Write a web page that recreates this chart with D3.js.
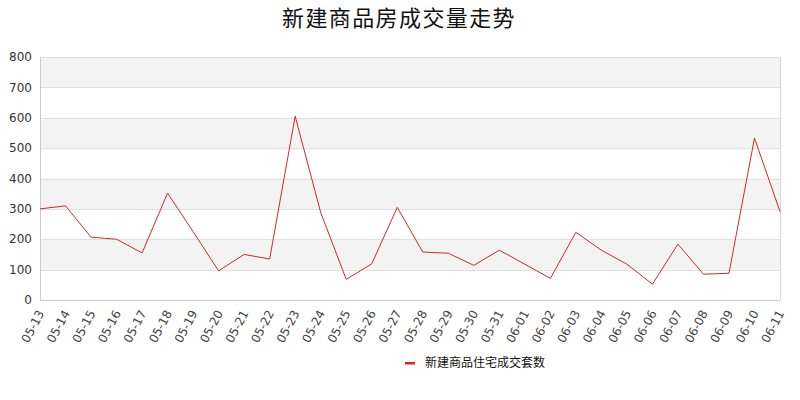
<!DOCTYPE html>
<html><head><meta charset="utf-8">
<script src="https://cdn.jsdelivr.net/npm/d3@7"></script>
<style>body{margin:0;background:#fff;}svg{display:block;font-family:"Noto Sans CJK SC","DejaVu Sans",sans-serif;}</style>
</head><body><svg id="c" width="800" height="400"></svg>
<script>
const title = "新建商品房成交量走势";
const seriesName = "新建商品住宅成交套数";
const categories = ["05-13","05-14","05-15","05-16","05-17","05-18","05-19","05-20","05-21","05-22","05-23","05-24","05-25","05-26","05-27","05-28","05-29","05-30","05-31","06-01","06-02","06-03","06-04","06-05","06-06","06-07","06-08","06-09","06-10","06-11"];
const values = [300,310,207,200,155,352,225,96,150,135,605,288,68,119,305,158,154,114,164,118,71,223,164,118,52,184,85,88,533,291];
const yTicks = [0,100,200,300,400,500,600,700,800];

const svg = d3.select("#c");
const m = {l:40, r:780, t:57, b:300};
const x = d3.scalePoint().domain(categories).range([m.l, m.r]);
const y = d3.scaleLinear().domain([0,800]).range([m.b, m.t]);

// bands
const bands = [[700,800],[500,600],[300,400],[100,200]];
svg.selectAll("rect.band").data(bands).enter().append("rect")
  .attr("x", m.l).attr("width", m.r - m.l)
  .attr("y", d => y(d[1])).attr("height", d => y(d[0]) - y(d[1]))
  .attr("fill", "#f3f3f3");

// grid lines
svg.selectAll("line.grid").data(yTicks).enter().append("line")
  .attr("x1", m.l).attr("x2", m.r)
  .attr("y1", d => Math.round(y(d)) + 0.5).attr("y2", d => Math.round(y(d)) + 0.5)
  .attr("stroke", "#e0e0e0").attr("stroke-width", 1);

// frame left / right / bottom
svg.append("line").attr("x1", m.l+0.5).attr("x2", m.l+0.5).attr("y1", m.t).attr("y2", m.b)
  .attr("stroke", "#cccccc");
svg.append("line").attr("x1", m.r+0.5).attr("x2", m.r+0.5).attr("y1", m.t).attr("y2", m.b)
  .attr("stroke", "#d6d6d6");
svg.append("line").attr("x1", m.l).attr("x2", m.r).attr("y1", m.b+0.5).attr("y2", m.b+0.5)
  .attr("stroke", "#cccccc");

// y labels
svg.selectAll("text.yl").data(yTicks).enter().append("text")
  .attr("x", 32).attr("y", d => y(d)).attr("dy", "0.35em")
  .attr("text-anchor", "end").attr("font-size", 12).attr("fill", "#333")
  .attr("font-family", "DejaVu Sans, sans-serif")
  .text(d => d);

// x labels
svg.selectAll("text.xl").data(categories).enter().append("text")
  .attr("transform", d => `translate(${x(d)+1},${m.b+11}) rotate(-62)`)
  .attr("text-anchor", "end").attr("dy", "0.35em")
  .attr("font-size", 12).attr("fill", "#444")
  .attr("font-family", "DejaVu Sans, sans-serif")
  .text(d => d);

// line
const line = d3.line().x((d,i) => x(categories[i])).y(d => y(d));
svg.append("path").datum(values).attr("d", line)
  .attr("fill", "none").attr("stroke", "#cc2b2b").attr("stroke-width", 1);

// title
svg.append("text").attr("x", 399).attr("y", 18).attr("dy", "0.35em")
  .attr("text-anchor", "middle").attr("font-size", 22).attr("letter-spacing", 1.4).attr("fill", "#111")
  .text(title);

// legend
svg.append("rect").attr("x", 405).attr("y", 362).attr("width", 10).attr("height", 2.5)
  .attr("fill", "#cc2b2b");
svg.append("text").attr("x", 425).attr("y", 363).attr("dy", "0.35em")
  .attr("font-size", 12).attr("fill", "#111").text(seriesName);
</script></body></html>
